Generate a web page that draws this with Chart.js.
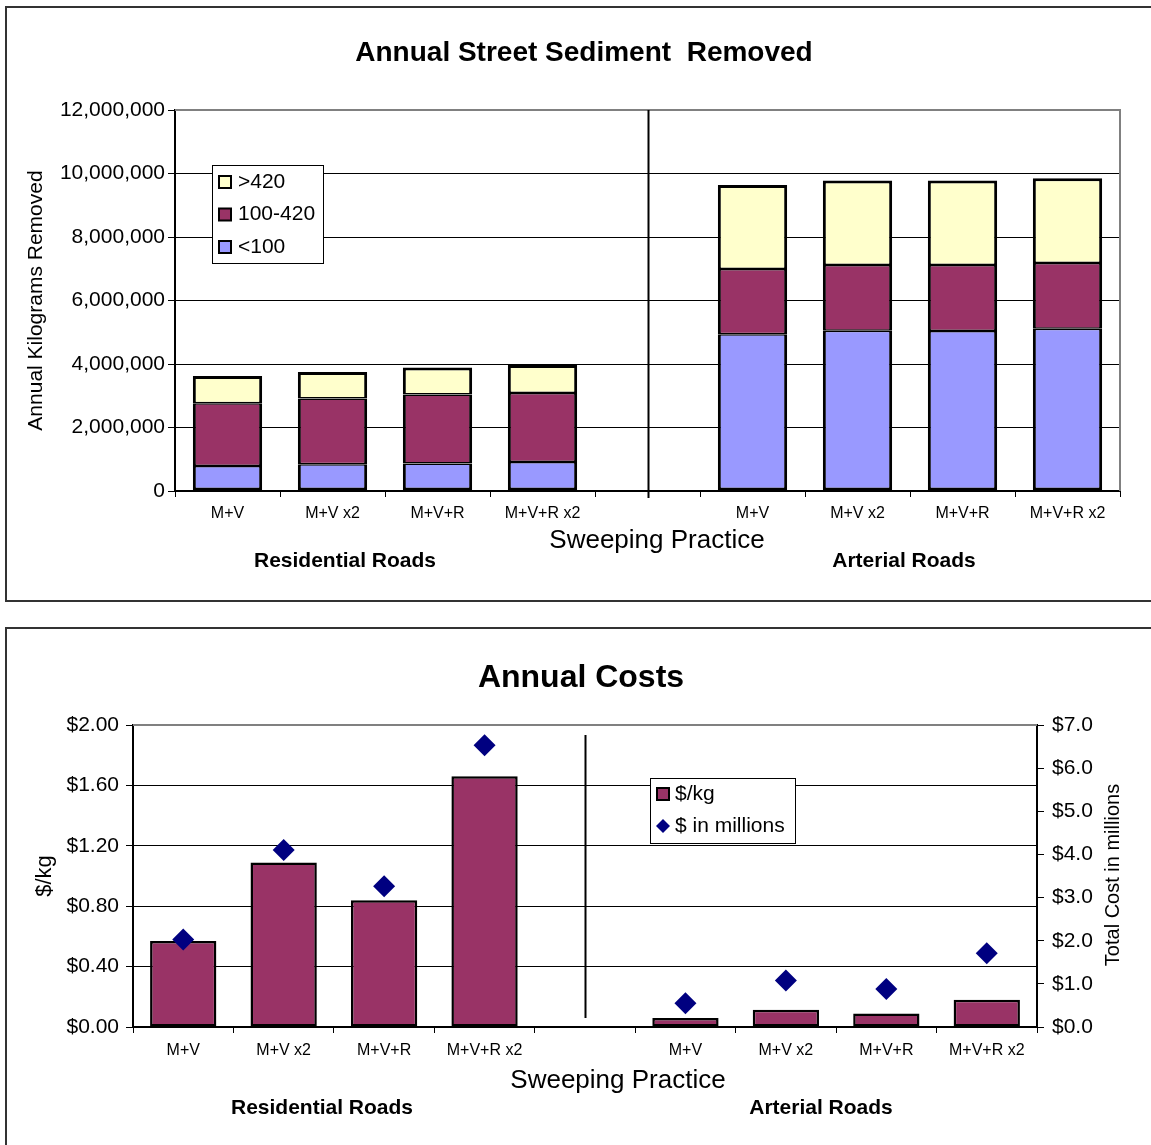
<!DOCTYPE html>
<html>
<head>
<meta charset="utf-8">
<title>Annual Street Sediment Removed / Annual Costs</title>
<script src="https://cdn.jsdelivr.net/npm/chart.js@4.4.1/dist/chart.umd.min.js"></script>
<style>
  html, body { margin: 0; padding: 0; background: #fff; overflow: hidden; width: 1151px; height: 1145px; }
  .frame { position: absolute; border: 2px solid #333; box-sizing: border-box; }
  .box { position: absolute; }
</style>
</head>
<body>
<div class="frame" style="left:5px;top:6px;width:1170px;height:596px;"></div>
<div class="box" style="left:7px;top:8px;width:1144px;height:591px;"><canvas id="sediment"></canvas></div>
<div class="frame" style="left:5px;top:627px;width:1170px;height:540px;"></div>
<div class="box" style="left:7px;top:629px;width:1144px;height:516px;"><canvas id="costs"></canvas></div>

<script>
// Sweeping practices; the blank slot separates residential from arterial roads
const practices = ['M+V', 'M+V x2', 'M+V+R', 'M+V+R x2', '', 'M+V', 'M+V x2', 'M+V+R', 'M+V+R x2'];
const roadGroups = ['Residential Roads', 'Arterial Roads'];
const xAxisTitle = 'Sweeping Practice';

// Sediment removed per year (kg), by particle size class (microns)
const sizeClasses = ['<100', '100-420', '>420'];
const fineKg   = [790000, 840000, 870000, 910000, null, 4940000, 5050000, 5040000, 5110000];
const mediumKg = [1970000, 2070000, 2170000, 2180000, null, 2050000, 2070000, 2080000, 2070000];
const coarseKg = [860000, 840000, 850000, 880000, null, 2650000, 2660000, 2660000, 2670000];
const kgAxis = { min: 0, max: 12000000, step: 2000000 };

// Costs
const costPerKg = [0.57, 1.09, 0.84, 1.66, null, 0.06, 0.115, 0.09, 0.18];
const totalCostMillions = [2.03, 4.10, 3.26, 6.53, null, 0.55, 1.08, 0.88, 1.71];
const costSeriesNames = ['$/kg', '$ in millions'];
const perKgAxis = { min: 0, max: 2, step: 0.4 };
const millionsAxis = { min: 0, max: 7, step: 1 };

const FONT = "'Liberation Sans', Arial, Helvetica, sans-serif";
Chart.defaults.font.family = FONT;
Chart.defaults.color = '#000';

const COLORS = { fine: '#9999FF', medium: '#993366', coarse: '#FFFFCC', diamond: '#000080' };

// Draws the chart titles, group captions, the group divider, the plot frame and an in-plot legend
const decor = {
  id: 'decor',
  afterDraw(chart, args, opts) {
    const ctx = chart.ctx;
    const area = chart.chartArea;
    const xs = chart.scales.x;
    ctx.save();

    // grey plot-area frame
    ctx.strokeStyle = '#808080';
    ctx.lineWidth = 2;
    ctx.beginPath();
    ctx.moveTo(area.left, area.top);
    ctx.lineTo(area.right, area.top);
    if (opts.frameRight) ctx.lineTo(area.right, area.bottom);
    ctx.stroke();

    // divider between road types, in the middle of the empty slot
    if (opts.divider) {
      const dx = Math.round(xs.getPixelForValue(opts.divider.index)) + 0.5;
      ctx.strokeStyle = '#000';
      ctx.lineWidth = 2;
      ctx.beginPath();
      ctx.moveTo(dx, area.top + opts.divider.top);
      ctx.lineTo(dx, area.bottom + opts.divider.bottom);
      ctx.stroke();
    }

    // free-standing text
    (opts.texts || []).forEach(t => {
      ctx.save();
      ctx.font = t.font;
      ctx.fillStyle = '#000';
      ctx.textAlign = 'center';
      ctx.textBaseline = 'middle';
      ctx.translate(t.x, t.y);
      if (t.rotate) ctx.rotate(t.rotate);
      ctx.fillText(t.text, 0, 0);
      ctx.restore();
    });

    // legend box
    const lg = opts.legend;
    if (lg) {
      ctx.fillStyle = '#fff';
      ctx.fillRect(lg.x, lg.y, lg.w, lg.h);
      ctx.strokeStyle = '#000';
      ctx.lineWidth = 1;
      ctx.strokeRect(lg.x + 0.5, lg.y + 0.5, lg.w, lg.h);
      const items = lg.items(chart);
      ctx.font = lg.font;
      ctx.textAlign = 'left';
      ctx.textBaseline = 'middle';
      items.forEach((it, i) => {
        const cy = lg.y + lg.firstRow + i * lg.rowH;
        const sx = lg.x + lg.swatchX;
        if (it.kind === 'diamond') {
          const cx = sx + lg.swatch / 2, r = lg.swatch / 2 + 1;
          ctx.fillStyle = it.color;
          ctx.beginPath();
          ctx.moveTo(cx, cy - r); ctx.lineTo(cx + r, cy); ctx.lineTo(cx, cy + r); ctx.lineTo(cx - r, cy);
          ctx.closePath();
          ctx.fill();
        } else {
          const s = lg.swatch;
          ctx.fillStyle = it.color;
          ctx.fillRect(sx, cy - s / 2, s, s);
          ctx.strokeStyle = '#000';
          ctx.lineWidth = 2;
          ctx.strokeRect(sx, cy - s / 2, s, s);
        }
        ctx.fillStyle = '#000';
        ctx.fillText(it.label, lg.x + lg.textX, cy);
      });
    }
    ctx.restore();
  }
};

const barLayout = { borderColor: '#000', borderSkipped: false, categoryPercentage: 1, barPercentage: 0.66 };
// stacked segments share their inner edges, so those edges are drawn at half width on each side
const edge = (top, bottom) => ({ left: 3, right: 3, top, bottom });

// ---------- Annual Street Sediment Removed ----------
new Chart(document.getElementById('sediment'), {
  type: 'bar',
  data: {
    labels: practices,
    datasets: [
      Object.assign({ label: sizeClasses[0], data: fineKg, backgroundColor: COLORS.fine, borderWidth: edge(1.5, 3) }, barLayout),
      Object.assign({ label: sizeClasses[1], data: mediumKg, backgroundColor: COLORS.medium, borderWidth: edge(1.5, 1.5) }, barLayout),
      Object.assign({ label: sizeClasses[2], data: coarseKg, backgroundColor: COLORS.coarse, borderWidth: edge(3, 1.5) }, barLayout)
    ]
  },
  options: {
    responsive: true,
    maintainAspectRatio: false,
    animation: false,
    events: [],
    layout: { padding: { left: 0, top: 102, right: 31, bottom: 0 } },
    scales: {
      x: {
        stacked: true,
        afterFit(s) { s.height = 108; },
        grid: { offset: true, drawOnChartArea: false, drawTicks: true, tickLength: 6, color: '#000' },
        border: { display: true, color: '#000', width: 2 },
        ticks: { autoSkip: false, maxRotation: 0, padding: 7, font: { size: 16 } }
      },
      y: {
        stacked: true,
        min: kgAxis.min,
        max: kgAxis.max,
        afterFit(s) { s.width = 168; },
        grid: { color: '#000', lineWidth: 1, tickLength: 7 },
        border: { color: '#000', width: 2 },
        ticks: { stepSize: kgAxis.step, padding: 3, font: { size: 21 },
                 callback: v => Number(v).toLocaleString('en-US') },
        title: { display: true, text: 'Annual Kilograms Removed', font: { size: 21 }, padding: { top: 17, bottom: 0 } }
      }
    },
    plugins: {
      legend: { display: false },
      tooltip: { enabled: false },
      decor: {
        frameRight: true,
        divider: { index: 4, top: 0, bottom: 7 },
        texts: [
          { text: 'Annual Street Sediment  Removed', x: 577, y: 45, font: 'bold 28px ' + FONT },
          { text: xAxisTitle, x: 650, y: 533, font: '26px ' + FONT },
          { text: roadGroups[0], x: 338, y: 553, font: 'bold 21px ' + FONT },
          { text: roadGroups[1], x: 897, y: 553, font: 'bold 21px ' + FONT }
        ],
        legend: {
          x: 205, y: 157, w: 111, h: 98, firstRow: 17, rowH: 32.5,
          swatchX: 7, swatch: 12, textX: 26, font: '21px ' + FONT,
          items: ch => ch.data.datasets.slice().reverse().map(d => ({ label: d.label, color: d.backgroundColor, kind: 'box' }))
        }
      }
    }
  },
  plugins: [decor]
});

// ---------- Annual Costs ----------
new Chart(document.getElementById('costs'), {
  type: 'bar',
  data: {
    labels: practices,
    datasets: [
      Object.assign({ label: costSeriesNames[0], data: costPerKg, backgroundColor: COLORS.medium, borderWidth: 2.5, yAxisID: 'y', order: 1 }, barLayout),
      {
        type: 'line', label: costSeriesNames[1], data: totalCostMillions, yAxisID: 'y2', order: 0,
        showLine: false, pointStyle: 'rectRot', pointRadius: 11,
        backgroundColor: COLORS.diamond, borderColor: COLORS.diamond, borderWidth: 0
      }
    ]
  },
  options: {
    responsive: true,
    maintainAspectRatio: false,
    animation: false,
    events: [],
    layout: { padding: { left: 0, top: 96, right: 0, bottom: 0 } },
    scales: {
      x: {
        afterFit(s) { s.height = 118; },
        grid: { offset: true, drawOnChartArea: false, drawTicks: true, tickLength: 6, color: '#000' },
        border: { display: true, color: '#000', width: 2 },
        ticks: { autoSkip: false, maxRotation: 0, padding: 8, font: { size: 16 } }
      },
      y: {
        position: 'left',
        min: perKgAxis.min,
        max: perKgAxis.max,
        afterFit(s) { s.width = 126; },
        grid: { color: '#000', lineWidth: 1, tickLength: 7 },
        border: { color: '#000', width: 2 },
        ticks: { stepSize: perKgAxis.step, padding: 7, font: { size: 21 },
                 callback: v => '$' + Number(v).toFixed(2) },
        title: { display: true, text: '$/kg', font: { size: 22 }, padding: { top: 25, bottom: 0 } }
      },
      y2: {
        position: 'right',
        min: millionsAxis.min,
        max: millionsAxis.max,
        afterFit(s) { s.width = 114; },
        grid: { drawOnChartArea: false, color: '#000', tickLength: 7 },
        border: { color: '#000', width: 2 },
        ticks: { stepSize: millionsAxis.step, padding: 8, font: { size: 21 },
                 callback: v => '$' + Number(v).toFixed(1) }
      }
    },
    plugins: {
      legend: { display: false },
      tooltip: { enabled: false },
      decor: {
        frameRight: false,
        divider: { index: 4, top: 10, bottom: -9 },
        texts: [
          { text: 'Annual Costs', x: 574, y: 49, font: 'bold 32px ' + FONT },
          { text: 'Total Cost in millions', x: 1106, y: 246, rotate: -Math.PI / 2, font: '20px ' + FONT },
          { text: xAxisTitle, x: 611, y: 452, font: '26px ' + FONT },
          { text: roadGroups[0], x: 315, y: 479, font: 'bold 21px ' + FONT },
          { text: roadGroups[1], x: 814, y: 479, font: 'bold 21px ' + FONT }
        ],
        legend: {
          x: 643, y: 149, w: 145, h: 65, firstRow: 16, rowH: 32,
          swatchX: 7, swatch: 12, textX: 25, font: '21px ' + FONT,
          items: ch => [
            { label: ch.data.datasets[0].label, color: ch.data.datasets[0].backgroundColor, kind: 'box' },
            { label: ch.data.datasets[1].label, color: ch.data.datasets[1].backgroundColor, kind: 'diamond' }
          ]
        }
      }
    }
  },
  plugins: [decor]
});
</script>
</body>
</html>
